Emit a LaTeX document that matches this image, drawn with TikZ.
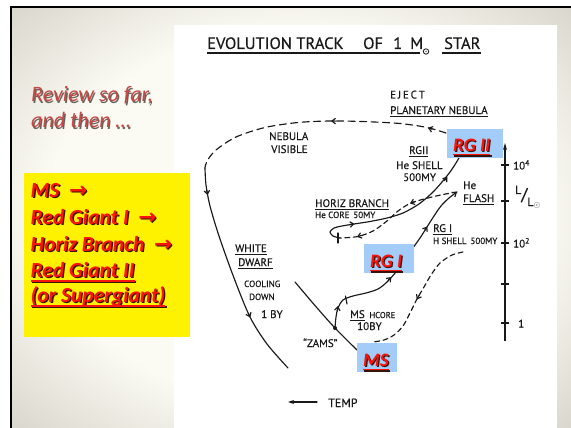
\documentclass[tikz,border=0pt]{standalone}
\usepackage{fontspec}
\usetikzlibrary{arrows.meta}
\setmainfont{Carlito}
\newfontfamily\handfont{PT Sans}[FakeBold=0.5]
\newfontfamily\arrowfont{DejaVu Sans}

\definecolor{slidegray}{RGB}{172,170,158}
\definecolor{slidelight}{RGB}{252,251,243}
\definecolor{hlblue}{RGB}{163,204,249}
\definecolor{brightred}{RGB}{250,20,10}
\definecolor{reviewred}{RGB}{196,72,70}
\definecolor{inkshadow}{RGB}{55,20,10}
\definecolor{softshadow}{RGB}{105,98,92}
\definecolor{ink}{RGB}{25,25,25}

\pgfdeclareradialshading{slideglow}{\pgfpoint{0bp}{0bp}}{%
  color(0bp)=(slidelight); color(22bp)=(slidelight);
  color(52bp)=(slidegray); color(75bp)=(slidegray)}

% text with a small drop shadow
\newcommand\shadowtext[3]{\leavevmode\rlap{\kern#2\raisebox{-#2}{\color{#1}#3}}#3}
% underline: depth of the rule's bottom, rule thickness, text
\newsavebox\ulbox
\newcommand\ulwith[3]{\sbox\ulbox{#3}\leavevmode\rlap{\rule[-#1]{\wd\ulbox}{#2}}\usebox\ulbox}
\newcommand\boldul[1]{\ulwith{4.8pt}{1.7pt}{#1}}
\newcommand\tagul[1]{\ulwith{4.4pt}{1.8pt}{#1}}
\newcommand\handul[1]{\ulwith{3pt}{0.8pt}{#1}}
\newcommand\rarr{\hspace{0.45em}{\arrowfont\bfseries →}}
% arrowhead sitting on a track: short stroke from #1 to the tip #2
\newcommand\tipat[2]{\draw[track,-handtip] #1 -- #2;}

\tikzset{
  handtip/.tip={Straight Barb[length=3.6pt,width=5.6pt]},
  track/.style={draw=ink, line width=1.15pt, line cap=round, line join=round},
  dashtrack/.style={track, dash pattern=on 7pt off 4.5pt},
  shortdash/.style={track, dash pattern=on 5pt off 3.5pt},
  hand/.style={font=\handfont\fontsize{11}{12}\selectfont, text=ink, inner sep=0pt, anchor=base west},
  handsm/.style={hand, font=\handfont\fontsize{9}{10}\selectfont},
  titletxt/.style={font=\handfont\fontsize{16.5}{18}\selectfont, text=ink, inner sep=0pt, anchor=base west},
  reviewtxt/.style={font=\itshape\fontsize{22}{26}\selectfont, text=reviewred, inner sep=0pt, anchor=base west},
  boxtxt/.style={font=\bfseries\itshape\fontsize{21.5}{26}\selectfont, text=brightred, inner sep=0pt, anchor=base west},
  tagtxt/.style={font=\bfseries\itshape\fontsize{19}{22}\selectfont, text=brightred, inner sep=0pt, anchor=base west},
  hlbox/.style={fill=hlblue, inner sep=0pt, anchor=north west},
}

\begin{document}
\begin{tikzpicture}[x=1pt,y=-1pt]
\useasboundingbox (0,0) rectangle (571,428);

% slide background and frame
\fill[white] (0,0) rectangle (571,428);
\shade[shading=slideglow] (11,7) rectangle (571,428);
\draw[line width=2.4pt,black] (11,428) -- (11,7.2) -- (571,7.2);

% paper sheet
\fill[white] (174,25) rectangle (557,428);

% left column
\node[reviewtxt] (rev1) at (31,102) {\shadowtext{softshadow}{1.2pt}{Review so far,}};
\node[reviewtxt] (rev2) at (31,128) {\shadowtext{softshadow}{1.2pt}{and then …}};

\node[fill=yellow, inner sep=0pt, anchor=north west, minimum width=166pt, minimum height=164pt] (summary) at (24,173) {};
\node[boxtxt] (l1) at (30.5,197) {\shadowtext{inkshadow}{1.3pt}{MS\rarr}};
\node[boxtxt] (l2) at (30.5,224) {\shadowtext{inkshadow}{1.3pt}{Red Giant I\rarr}};
\node[boxtxt] (l3) at (30.5,251) {\shadowtext{inkshadow}{1.3pt}{Horiz Branch\rarr}};
\node[boxtxt] (l4) at (30.5,277) {\shadowtext{inkshadow}{1.3pt}{\boldul{Red Giant II}}};
\node[boxtxt] (l5) at (30.5,302) {\shadowtext{inkshadow}{1.3pt}{\boldul{(or Supergiant)}}};

% title
\node[titletxt] (t1) at (207,49) {EVOLUTION TRACK};
\node[titletxt] (t2) at (363,49) {OF};
\node[titletxt] (t3) at (393,49) {1};
\node[titletxt] (t4) at (410,49) {M};
\draw[ink,line width=0.8pt] (426,51.5) circle (2.7);
\fill[ink] (426,51.5) circle (0.7);
\node[titletxt] (t5) at (444,49) {STAR};
\draw[ink,line width=1.2pt] (207,53) -- (420,53);
\draw[ink,line width=1.2pt] (442,53) -- (481,53);

% luminosity axis
\coordinate (axbot) at (505,341);
\coordinate (axtop) at (505,143);
\draw[ink,line width=1.1pt,-{Stealth[length=7pt,width=4pt]}] (axbot) -- (axtop);
\foreach \ty in {165,201,243,284,323} \draw[ink,line width=1.1pt] (501,\ty) -- (509,\ty);
\node[hand] (ten4) at (513,169.5) {10\textsuperscript{4}};
\node[hand] (ten2) at (513,247.5) {10\textsuperscript{2}};
\node[hand] (one) at (518,327.5) {1};
\node[hand, font=\handfont\fontsize{12}{13}\selectfont] (lum) at (515,200) {\raisebox{6pt}{L}{\fontsize{17}{17}\selectfont/}\raisebox{-6pt}{L\textsubscript{$\odot$}}};

% key points of the track
\coordinate (ejectStart) at (446,133);
\coordinate (wdTop) at (205,168);
\coordinate (wdEnd) at (288,368);
\coordinate (msTop) at (295,282);
\coordinate (msBottom) at (357,350);
\coordinate (zams) at (335,328);
\coordinate (rgOneIn) at (396,272);
\coordinate (rgOneOut) at (410,252);
\coordinate (flash) at (457,192);
\coordinate (hbCross) at (340,238);
\coordinate (rgTwoIn) at (460,156);
\coordinate (dipTop) at (463,252);
\coordinate (dipEnd) at (373,342);
\coordinate (tempTail) at (317,402);
\coordinate (tempHead) at (288,402);

% planetary nebula ejection
\draw[dashtrack] plot[smooth] coordinates
  {(ejectStart) (427,127.5) (400,123.5) (362,121.5) (330,121) (298,122.5) (265,127.5) (236,137) (216,150) (207,161) (wdTop)};
\tipat{(432,129.2)}{(428,127.9)}
\tipat{(336,121.1)}{(331,121)}
% white dwarf cooling
\draw[track] plot[smooth] coordinates
  {(wdTop) (206,185) (210,206) (219,236) (234,278) (250,317) (267,344) (wdEnd)};
\tipat{(206.8,190)}{(207.6,195)}
\tipat{(248.4,313.2)}{(250.2,317.5)}
% zero age main sequence
\draw[track] plot[smooth] coordinates {(msTop) (306,295) (318,309) (zams) (msBottom)};
\fill[ink] (zams) circle (2);
% main sequence to red giant
\draw[track] plot[smooth] coordinates
  {(zams) (336,317) (338,308) (343,300) (353,296) (366,293) (378,289) (387,282) (rgOneIn)};
\tipat{(337.2,311)}{(338,306)}
\tipat{(388.2,280.4)}{(391.2,277)}
\draw[track] (345.5,296) -- (347,304);
% red giant branch up to the helium flash
\draw[track, -handtip] plot[smooth] coordinates
  {(rgOneOut) (420,238) (427,227) (434,216) (441,206) (449,198) (flash)};
\tipat{(424.6,230.6)}{(427.3,226.5)}
% after the flash, down to the horizontal branch
\draw[shortdash] plot[smooth] coordinates
  {(flash) (443,194.5) (428,198) (411,203) (398,211) (387,221) (373,231) (358,236.5) (hbCross)};
\tipat{(414.5,201.8)}{(410,203.4)}
\tipat{(361.6,235.4)}{(357,236.8)}
% horizontal branch loop and second giant branch
\draw[track] plot[smooth] coordinates
  {(hbCross) (333,236) (330,232) (334,228) (342,226) (354,224) (370,221.5) (387,218) (403,213) (419,204) (432,193) (442,182) (450,172) (456,163) (rgTwoIn)};
\tipat{(349.5,224.6)}{(354.5,223.9)}
\tipat{(444.4,180.6)}{(447.4,176.8)}
\draw[track] (338,233) -- (338,243);
% dashed descent towards the main sequence
\draw[shortdash] plot[smooth] coordinates
  {(dipTop) (452,255) (440,263) (431,275) (424,287) (417,299) (410,313) (403,326) (394,335) (384,340) (dipEnd)};
\tipat{(419.3,295)}{(416.8,299.5)}

% temperature direction
\draw[track, -{Stealth[length=6pt,width=4pt]}] (tempTail) -- (tempHead);
\node[hand, font=\handfont\fontsize{12}{13}\selectfont] (temp) at (328,407) {TEMP};

% handwritten labels
\node[hand] (eject) at (390,98.5) {E\,J\,E\,C\,T};
\node[hand] (pneb) at (390,114) {\handul{PLANETARY NEBULA}};
\node[hand] (neb) at (269,140) {NEBULA};
\node[hand] (vis) at (271,153) {VISIBLE};
\node[hand] (rg2lbl) at (409,154) {\handul{RGII}};
\node[hand] (heshell) at (396,169) {He SHELL};
\node[hand] (myA) at (403,181) {500MY};
\node[hand] (he) at (463,189) {He};
\node[hand] (flashlbl) at (463,202) {\handul{FLASH}};
\node[hand] (hb) at (315,207) {\handul{HORIZ BRANCH}};
\node[handsm] (hecore) at (315,218) {He CORE\, 50MY};
\node[hand] (rg1lbl) at (433,232) {\handul{RG I}};
\node[handsm] (hshell) at (433,244) {H SHELL\, 500MY};
\node[hand] (white) at (235,252) {\handul{WHITE}};
\node[hand] (dwarf) at (238,266) {\handul{DWARF}};
\node[handsm] (cool) at (244,287) {COOLING};
\node[handsm] (down) at (249,300) {DOWN};
\node[hand] (oneby) at (261,318) {1 BY};
\node[hand] (mshcore) at (350,318) {\handul{MS}\, {\fontsize{8.5}{10}\selectfont HCORE}};
\node[hand] (tenby) at (357,330) {10BY};
\node[hand] (zamslbl) at (303,347) {“ZAMS”};

% highlighted stage tags
\node[hlbox, minimum width=56pt, minimum height=29pt] (rgtwo) at (447,129) {};
\node[tagtxt] (rgtwotxt) at (453,151) {\shadowtext{inkshadow}{1.2pt}{\tagul{RG II}}};
\node[hlbox, minimum width=50pt, minimum height=29pt] (rgone) at (364,244) {};
\node[tagtxt] (rgonetxt) at (370,267) {\shadowtext{inkshadow}{1.2pt}{\tagul{RG I}}};
\node[hlbox, minimum width=40pt, minimum height=29pt] (ms) at (357,343) {};
\node[tagtxt] (mstxt) at (363,366) {\shadowtext{inkshadow}{1.2pt}{\tagul{MS}}};
\end{tikzpicture}
\end{document}
